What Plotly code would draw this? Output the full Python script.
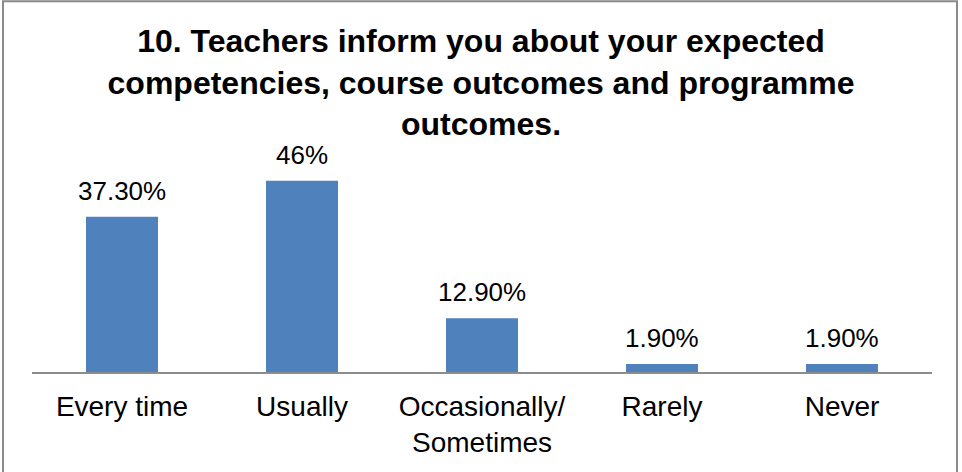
import plotly.graph_objects as go

categories = ["Every time", "Usually", "Occasionally/<br>Sometimes", "Rarely", "Never"]
values = [37.3, 46, 12.9, 1.9, 1.9]
value_labels = ["37.30%", "46%", "12.90%", "1.90%", "1.90%"]

title_text = ("10. Teachers inform you about your expected<br>"
              "competencies, course outcomes and programme<br>outcomes.")

FONT = "Liberation Sans, Arial, sans-serif"

fig = go.Figure()

fig.add_trace(go.Bar(
    x=categories,
    y=values,
    width=0.4,
    marker=dict(color="#4F81BD", line=dict(width=0)),
    hoverinfo="skip",
))

# data labels sit a bit above each bar, Excel-style
for cat, val, lab in zip(categories, values, value_labels):
    fig.add_annotation(
        x=cat, y=val, text=lab, showarrow=False,
        yanchor="bottom", yshift=9,
        font=dict(family=FONT, size=26, color="#000000"),
    )

# outer chart frame
fig.add_shape(
    type="rect", xref="paper", yref="paper",
    x0=-0.0322, x1=1.0278, y0=-0.6, y1=1.783,
    line=dict(color="#8a8a8a", width=2), fillcolor="rgba(0,0,0,0)",
    layer="below",
)

fig.update_layout(
    width=962,
    height=472,
    paper_bgcolor="white",
    plot_bgcolor="white",
    showlegend=False,
    margin=dict(l=32, r=30, t=164, b=100),
    title=dict(
        text=title_text,
        x=0.5, xref="container", xanchor="center",
        y=1 - 52 / 472, yref="container", yanchor="top",
        font=dict(family=FONT, size=32, color="#000000", weight="bold"),
    ),
    xaxis=dict(
        showline=True, linecolor="#8c8c8c", linewidth=2,
        showgrid=False, ticks="", zeroline=False,
        ticklabelstandoff=8,
        tickfont=dict(family=FONT, size=28, color="#000000"),
        fixedrange=True,
    ),
    yaxis=dict(
        range=[0, 50], visible=False, showgrid=False, zeroline=False,
        fixedrange=True,
    ),
    bargap=0.6,
)

fig.write_html("out.html", config={"displayModeBar": False},
               post_script="document.body.style.margin='0';")
